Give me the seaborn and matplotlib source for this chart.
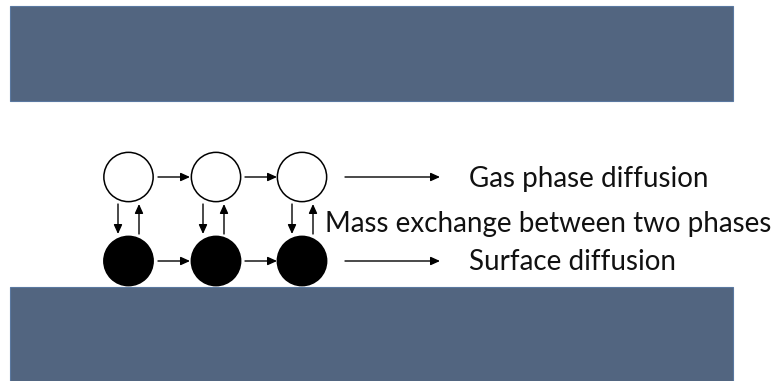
import numpy as np
import pandas as pd
import matplotlib as mpl
mpl.use('Agg')
import seaborn as sns
import matplotlib.pyplot as plt
from matplotlib.patches import Rectangle

# wall slabs (left, top, right, bottom) in pixel coords
wall_left = [10, 10]
wall_top = [6, 287]
wall_right = [733, 733]
wall_bottom = [101, 381]

# molecules: two rows (gas = open, surface = filled)
mol_x = [128.5, 216, 302, 128.5, 216, 302]
mol_y = [177, 177, 177, 261, 261, 261]
mol_phase = ['gas', 'gas', 'gas', 'surface', 'surface', 'surface']

# horizontal arrows between molecules (x0, x1, y)
hop_x0 = [158, 245, 158, 245]
hop_x1 = [190, 277, 190, 277]
hop_y = [177, 177, 261, 261]

# vertical exchange arrows (x, y_from, y_to)
exch_x = [118, 139, 203, 224, 292, 313]
exch_y0 = [204, 234, 204, 234, 204, 234]
exch_y1 = [234, 204, 234, 204, 234, 204]

# legend arrows + labels
lab_arrow_x0 = [345, 345]
lab_arrow_x1 = [440, 440]
lab_arrow_y = [177, 261]
labels = ['Gas phase diffusion', 'Mass exchange between two phases',
          'Surface diffusion']
label_x = [469, 325, 469]
label_y = [187, 232, 270]

sns.set_style('white')
plt.rcParams['font.family'] = ['Lato', 'DejaVu Sans']

fig = plt.figure(figsize=(7.78, 3.81), dpi=100)
ax = fig.add_axes([0, 0, 1, 1])
ax.set_xlim(0, 778)
ax.set_ylim(381, 0)
ax.axis('off')

for l, t, r, b in zip(wall_left, wall_top, wall_right, wall_bottom):
    ax.add_patch(Rectangle((l, t), r - l, b - t, facecolor='#526580',
                           edgecolor='#5a78a0', linewidth=0.8))

mol_df = pd.DataFrame({'x': mol_x, 'y': mol_y, 'phase': mol_phase})
sns.scatterplot(data=mol_df, x='x', y='y', hue='phase',
                palette={'gas': 'white', 'surface': 'black'},
                edgecolor='black', linewidth=1.1, s=1260, legend=False,
                ax=ax)

arrow_kw = dict(arrowstyle='-|>,head_length=0.55,head_width=0.25',
                color='black', lw=1.0, mutation_scale=10,
                shrinkA=0, shrinkB=0)

for x0, x1, y in zip(hop_x0, hop_x1, hop_y):
    ax.annotate('', xy=(x1, y), xytext=(x0, y), arrowprops=arrow_kw)

for x, y0, y1 in zip(exch_x, exch_y0, exch_y1):
    ax.annotate('', xy=(x, y1), xytext=(x, y0), arrowprops=arrow_kw)

for x0, x1, y in zip(lab_arrow_x0, lab_arrow_x1, lab_arrow_y):
    ax.annotate('', xy=(x1, y), xytext=(x0, y), arrowprops=arrow_kw)

for txt, x, y in zip(labels, label_x, label_y):
    ax.text(x, y, txt, fontsize=20, color='#111111',
            ha='left', va='baseline')

ax.set_xlabel('')
ax.set_ylabel('')

plt.savefig('out.png', dpi=100)
plt.close()
